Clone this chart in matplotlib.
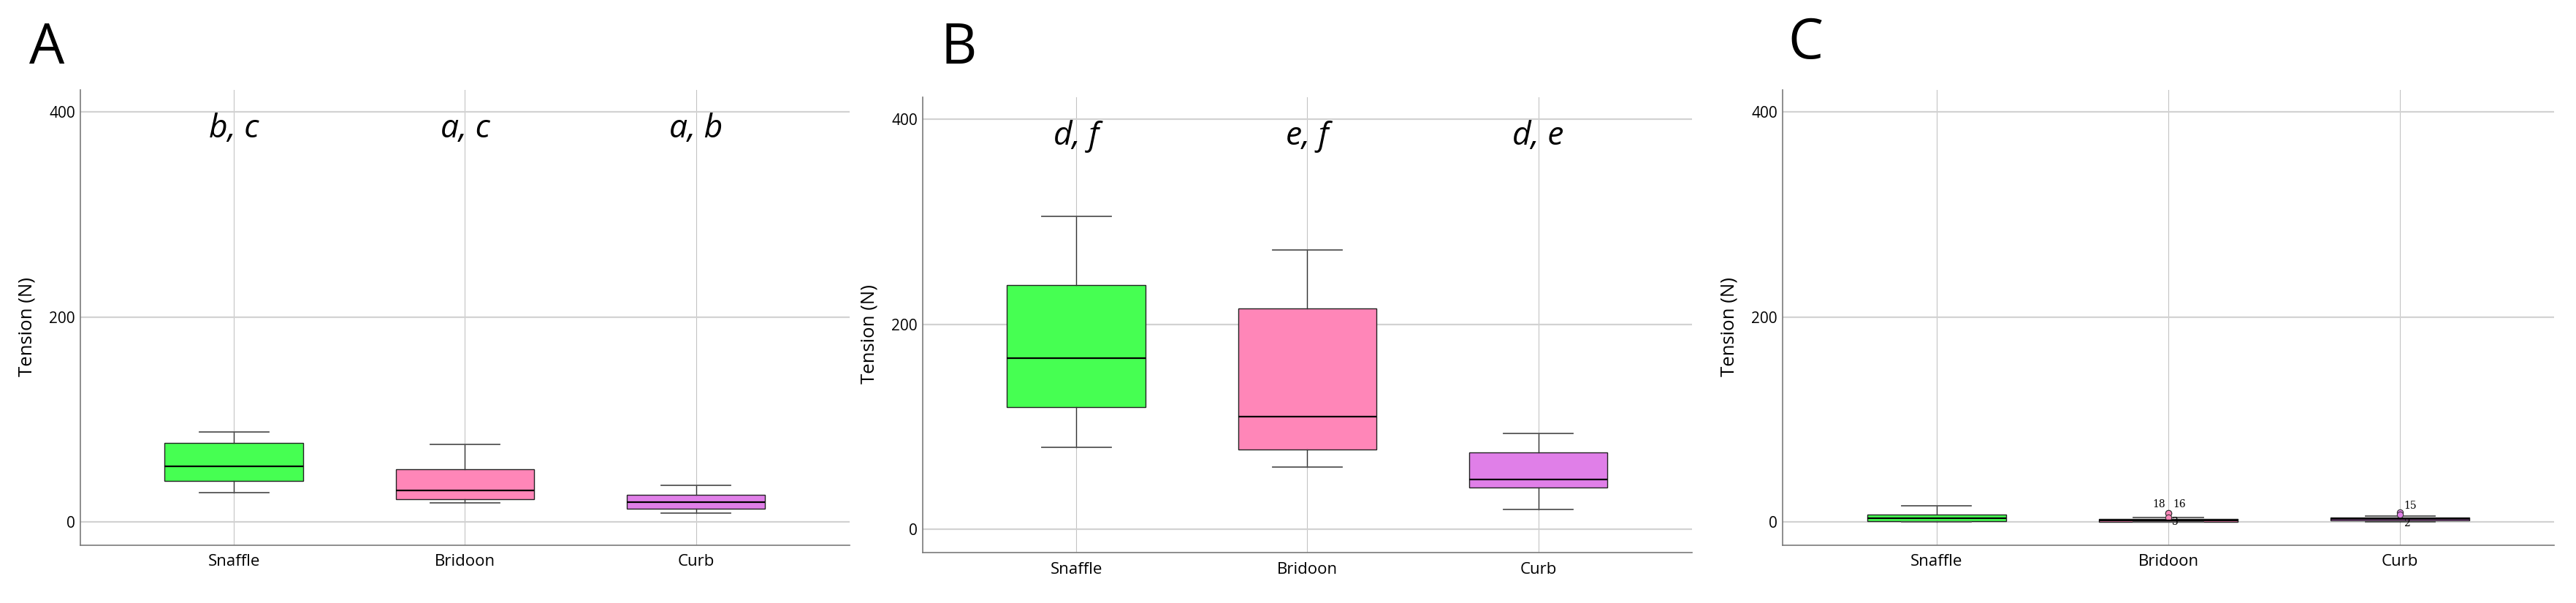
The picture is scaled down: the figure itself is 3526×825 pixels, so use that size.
import numpy as np
import matplotlib
matplotlib.use('Agg')
import matplotlib.pyplot as plt

plt.rcParams['font.family'] = ['Open Sans', 'DejaVu Sans']

categories = ['Snaffle', 'Bridoon', 'Curb']
box_colors = ['#46FF52', '#FF86B8', '#E07FE8']

# panel A
a_whislo = [28.2, 18.8, 8.6]
a_q1     = [39.8, 22.2, 12.8]
a_med    = [54.0, 30.4, 19.5]
a_q3     = [77.4, 51.0, 26.7]
a_whishi = [87.5, 75.5, 36.0]
a_letters = ['b, c', 'a, c', 'a, b']

# panel B
b_whislo = [80.3, 61.2, 19.5]
b_q1     = [119.3, 77.7, 40.9]
b_med    = [167.4, 109.9, 48.8]
b_q3     = [238.3, 215.8, 75.4]
b_whishi = [305.8, 272.8, 93.8]
b_letters = ['d, f', 'e, f', 'd, e']

# panel C
c_whislo = [0.0, 0.1, 0.1]
c_q1     = [0.8, 0.3, 1.5]
c_med    = [3.6, 1.2, 3.0]
c_q3     = [7.2, 2.7, 4.2]
c_whishi = [15.4, 4.4, 6.0]
c_fliers = [[], [8.2, 8.2, 4.6], [9.6, 7.3]]
c_flier_ids = [[], ['18', '16', '3'], ['15', '2']]

y_ticks = [0, 200, 400]


def make_stats(whislo, q1, med, q3, whishi, fliers=None):
    stats = []
    for i in range(len(med)):
        stats.append({
            'whislo': whislo[i], 'q1': q1[i], 'med': med[i],
            'q3': q3[i], 'whishi': whishi[i],
            'fliers': fliers[i] if fliers else [],
        })
    return stats


def draw_panel(ax, stats, letters=None):
    pos = np.arange(1, len(categories) + 1)
    bp = ax.bxp(stats, positions=pos, widths=0.6, capwidths=0.3,
                patch_artist=True,
                boxprops=dict(edgecolor='#222222', linewidth=1.0),
                medianprops=dict(color='black', linewidth=1.6),
                whiskerprops=dict(color='#333333', linewidth=1.0),
                capprops=dict(color='#555555', linewidth=1.3),
                flierprops=dict(marker='o', markersize=6,
                                markeredgecolor='#333333', markeredgewidth=0.8))
    for patch, fl, col in zip(bp['boxes'], bp['fliers'], box_colors):
        patch.set_facecolor(col)
        fl.set_markerfacecolor(col)

    ax.set_xlim(0.335, 3.665)
    ax.set_ylim(-22.6, 422)
    ax.set_xticks(pos)
    ax.set_xticklabels(categories, fontsize=16)
    ax.set_yticks(y_ticks)
    ax.tick_params(axis='y', length=0, pad=5, labelsize=15)
    ax.tick_params(axis='x', length=0, pad=9)
    ax.set_axisbelow(True)
    ax.grid(axis='y', color='#d2d2d2', linewidth=1.6)
    ax.grid(axis='x', color='#c4c4c4', linewidth=0.8)
    for s in ['top', 'right']:
        ax.spines[s].set_visible(False)
    for s in ['left', 'bottom']:
        ax.spines[s].set_color('#7a7a7a')
        ax.spines[s].set_linewidth(1.2)
    ax.set_ylabel('Tension (N)', fontsize=18.5)
    ax.yaxis.set_label_coords(-0.057, 0.48)

    if letters:
        for p, txt in zip(pos, letters):
            ax.text(p, 375, txt, ha='center', va='baseline',
                    fontsize=32, style='italic')


fig = plt.figure(figsize=(35.26, 8.25), dpi=100)
ax_a = fig.add_axes([0.0312, 0.0962, 0.2986, 0.7552])
ax_b = fig.add_axes([0.3582, 0.0836, 0.2986, 0.7557])
ax_c = fig.add_axes([0.6920, 0.0962, 0.2995, 0.7552])

draw_panel(ax_a, make_stats(a_whislo, a_q1, a_med, a_q3, a_whishi), a_letters)
draw_panel(ax_b, make_stats(b_whislo, b_q1, b_med, b_q3, b_whishi), b_letters)
draw_panel(ax_c, make_stats(c_whislo, c_q1, c_med, c_q3, c_whishi, c_fliers))

# case labels next to the outliers in C
label_offsets = {'18': (-9, 9), '16': (11, 9), '3': (7, -5),
                 '15': (10, 6), '2': (7, -9)}
for i, (vals, ids) in enumerate(zip(c_fliers, c_flier_ids)):
    for v, lab in zip(vals, ids):
        ax_c.annotate(lab, (i + 1, v), xytext=label_offsets[lab],
                      textcoords='offset points', ha='center', va='center',
                      fontsize=10, family='DejaVu Serif')

for x, y, lab in [(0.0114, 0.8948, 'A'), (0.3652, 0.8945, 'B'), (0.6942, 0.903, 'C')]:
    fig.text(x, y, lab, fontsize=55, ha='left', va='baseline')

fig.savefig('out.png', dpi=100)
plt.close(fig)
